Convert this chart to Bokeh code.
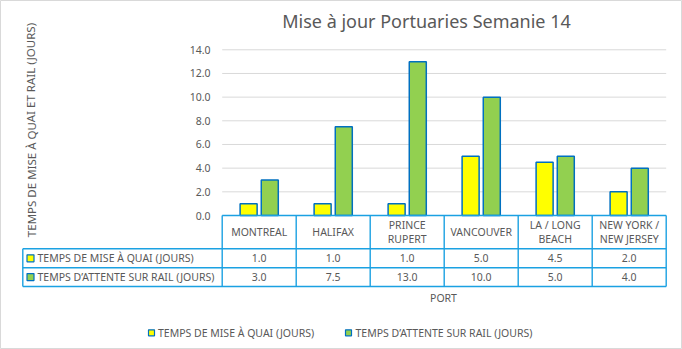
from bokeh.plotting import figure
from bokeh.models import Range1d
from bokeh.core.properties import value
from bokeh.embed import file_html
from bokeh.resources import INLINE

# ---------------- data ----------------
categories = ["MONTREAL", "HALIFAX", "PRINCE\nRUPERT", "VANCOUVER",
              "LA / LONG\nBEACH", "NEW YORK /\nNEW JERSEY"]
quai = [1.0, 1.0, 1.0, 5.0, 4.5, 2.0]
rail = [3.0, 7.5, 13.0, 10.0, 5.0, 4.0]
series_names = ["TEMPS DE MISE À QUAI (JOURS)", "TEMPS  D’ATTENTE SUR RAIL (JOURS)"]
y_ticks = [0, 2, 4, 6, 8, 10, 12, 14]
title_text = "Mise à jour Portuaries Semanie 14"
y_title = "TEMPS DE MISE À QUAI ET RAIL (JOURS)"
x_title = "PORT"

# ---------------- layout (pixel geometry) ----------------
W, H = 682, 349
X0, CW = 221.7, 74.0      # px of category-edge 0, px per category
Y0, YS = 215.0, 11.836    # px of value 0, px per value unit


def dx(px):
    return (px - X0) / CW


def dy(py):
    return (Y0 - py) / YS


FONT = value("Noto Sans")
TXT = "#595959"
TABLE = "#1BA1E2"
YELLOW = "#FFFF00"
GREEN = "#92D050"
EDGE = "#0070C0"

p = figure(width=W, height=H, output_backend="svg", toolbar_location=None,
           x_range=Range1d(dx(0), dx(W)), y_range=Range1d(dy(H), dy(0)),
           x_axis_location=None, y_axis_location=None, min_border=0,
           background_fill_color="white", border_fill_color="white")
p.grid.visible = False
p.outline_line_color = "#D9D9D9"

n = len(categories)
ncat = float(n)

# gridlines
p.segment(x0=[0] * len(y_ticks), y0=y_ticks, x1=[ncat] * len(y_ticks), y1=y_ticks,
          line_color="#D9D9D9", line_width=1)
# tick labels
p.text(x=[dx(210)] * len(y_ticks), y=y_ticks, text=[f"{t:.1f}" for t in y_ticks],
       text_font=FONT, text_font_size="10.5px", text_color=TXT,
       text_align="right", text_baseline="middle")

# bars
off, bw = 0.143, 0.23
centers = [i + 0.5 for i in range(n)]
p.vbar(x=[c - off for c in centers], top=quai, width=bw, bottom=0,
       fill_color=YELLOW, line_color=EDGE, line_width=1.5)
p.vbar(x=[c + off for c in centers], top=rail, width=bw, bottom=0,
       fill_color=GREEN, line_color=EDGE, line_width=1.5)

# data table lines
hb, r1, r2 = dy(248.3), dy(267.3), dy(286.0)
left = dx(22.3)
p.segment(x0=[0, left, left, left], y0=[0, hb, r1, r2],
          x1=[ncat] * 4, y1=[0, hb, r1, r2], line_color=TABLE, line_width=1.4)
p.segment(x0=list(range(n + 1)), y0=[0] * (n + 1), x1=list(range(n + 1)), y1=[r2] * (n + 1),
          line_color=TABLE, line_width=1.4)
p.segment(x0=[left], y0=[hb], x1=[left], y1=[r2], line_color=TABLE, line_width=1.4)

# category labels
lx, ly, lt = [], [], []
for c, cat in zip(centers, categories):
    lines = cat.split("\n")
    if len(lines) == 1:
        lx.append(c); ly.append(dy(231.6)); lt.append(lines[0])
    else:
        lx += [c, c]; ly += [dy(224.0), dy(238.3)]; lt += lines
p.text(x=lx, y=ly, text=lt, text_font=FONT, text_font_size="10.5px", text_color=TXT,
       text_align="center", text_baseline="middle")

# values in table
row1_y, row2_y = dy(257.8), dy(276.6)
p.text(x=centers, y=[row1_y] * n, text=[f"{v:.1f}" for v in quai], text_font=FONT,
       text_font_size="10.5px", text_color=TXT, text_align="center", text_baseline="middle")
p.text(x=centers, y=[row2_y] * n, text=[f"{v:.1f}" for v in rail], text_font=FONT,
       text_font_size="10.5px", text_color=TXT, text_align="center", text_baseline="middle")

# row labels with keys
p.rect(x=[dx(30)] * 2, y=[row1_y, row2_y], width=7, height=7, width_units="screen",
       height_units="screen", fill_color=[YELLOW, GREEN], line_color=EDGE, line_width=1.2)
p.text(x=[dx(37)] * 2, y=[row1_y, row2_y], text=series_names, text_font=FONT,
       text_font_size="10.5px", text_color=TXT, text_align="left", text_baseline="middle")

# x axis title
p.text(x=[dx(443)], y=[dy(297)], text=[x_title], text_font=FONT, text_font_size="10.5px",
       text_color=TXT, text_align="center", text_baseline="middle")

# y axis title
p.text(x=[dx(30.5)], y=[dy(129.5)], text=[y_title], angle=1.5708, text_font=FONT,
       text_font_size="11.5px", text_color=TXT, text_align="center", text_baseline="middle")

# chart title
p.text(x=[dx(426)], y=[dy(20)], text=[title_text], text_font=FONT, text_font_size="18px",
       text_color=TXT, text_align="center", text_baseline="middle")

# bottom legend
leg_y = dy(332.3)
p.rect(x=[dx(151), dx(348)], y=[leg_y] * 2, width=6, height=6, width_units="screen",
       height_units="screen", fill_color=[YELLOW, GREEN], line_color=EDGE, line_width=1.2)
p.text(x=[dx(157.5), dx(355)], y=[leg_y] * 2, text=series_names, text_font=FONT,
       text_font_size="10.5px", text_color=TXT, text_align="left", text_baseline="middle")

open("out.html", "w").write(file_html(p, INLINE))
